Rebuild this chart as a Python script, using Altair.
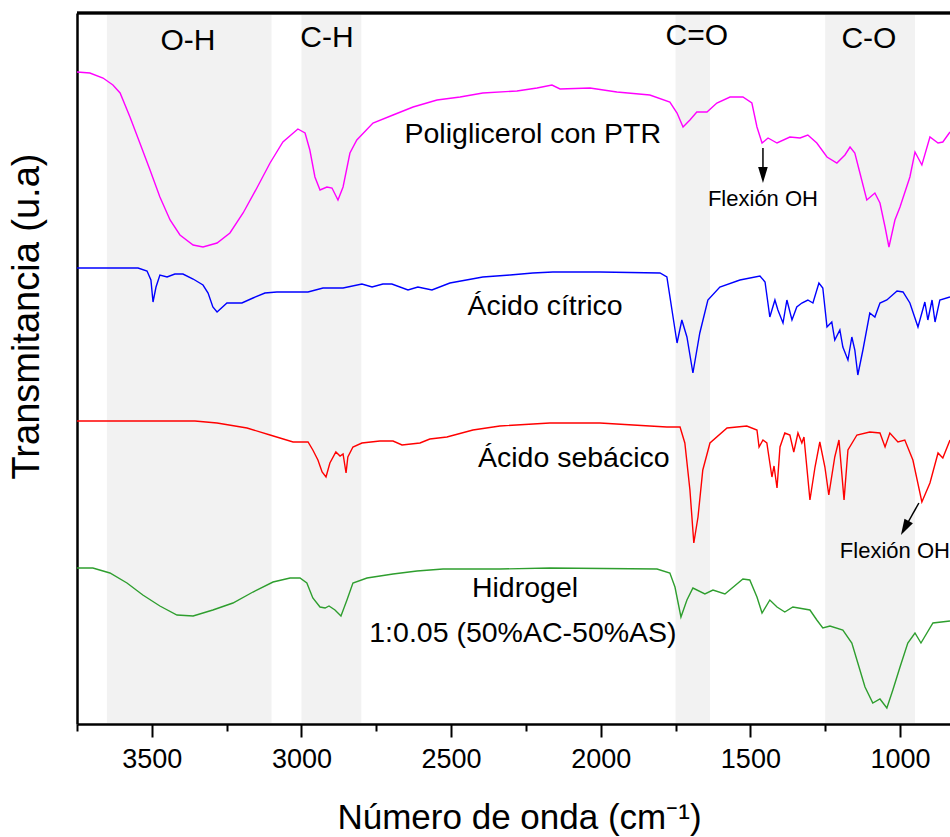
import altair as alt
import pandas as pd

# ---------------- data (wavenumber in cm-1, transmittance in arbitrary units) ----------------
pg_wn = [3750, 3707, 3663, 3630, 3606, 3573, 3540, 3506, 3473, 3439,
         3406, 3362, 3329, 3282, 3239, 3195, 3149, 3105, 3062, 3012,
         2988, 2972, 2955, 2938, 2915, 2898, 2878, 2861, 2838, 2815,
         2761, 2694, 2627, 2547, 2470, 2394, 2280, 2213, 2163, 2136,
         2036, 1946, 1836, 1769, 1745, 1725, 1702, 1679, 1645, 1612,
         1568, 1525, 1495, 1478, 1461, 1441, 1411, 1368, 1334, 1308,
         1278, 1244, 1211, 1184, 1167, 1151, 1134, 1111, 1084, 1067,
         1050, 1037, 1017, 1000, 967, 950, 927, 900, 873, 857, 833]
pg_t = [652, 651, 646, 639, 631, 607, 581, 554, 527, 504,
        489, 479, 477, 481, 491, 511, 536, 561, 582, 595,
        591, 574, 547, 534, 537, 536, 524, 537, 571, 584,
        601, 609, 617, 624, 627, 631, 633, 636, 639, 635,
        636, 632, 629, 622, 611, 597, 604, 612, 612, 621,
        627, 627, 621, 597, 581, 586, 581, 587, 586, 589,
        581, 567, 561, 569, 577, 571, 551, 524, 531, 521,
        497, 477, 504, 517, 547, 572, 559, 587, 581, 582, 592]

ac_wn = [3750, 3546, 3516, 3503, 3496, 3486, 3473, 3449, 3423, 3396,
         3362, 3329, 3312, 3296, 3282, 3249, 3199, 3162, 3122, 3082,
         2978, 2928, 2861, 2798, 2764, 2728, 2698, 2644, 2611, 2564,
         2504, 2394, 2303, 2227, 2160, 2003, 1802, 1779, 1762, 1745,
         1729, 1712, 1692, 1669, 1642, 1602, 1535, 1468, 1451, 1435,
         1418, 1408, 1391, 1378, 1361, 1345, 1328, 1308, 1291, 1271,
         1258, 1244, 1228, 1218, 1201, 1191, 1174, 1161, 1151, 1141,
         1124, 1101, 1084, 1067, 1044, 1010, 990, 967, 940, 917,
         907, 893, 883, 867, 833]
ac_t = [456, 456, 453, 444, 422, 437, 449, 447, 450, 450,
        445, 439, 431, 417, 412, 421, 421, 426, 431, 432,
        432, 436, 436, 440, 437, 440, 440, 434, 437, 434,
        441, 447, 449, 451, 452, 452, 451, 447, 414, 381,
        404, 387, 351, 391, 424, 437, 444, 448, 442, 407,
        424, 414, 401, 424, 404, 417, 421, 424, 421, 441,
        436, 397, 402, 384, 394, 377, 364, 387, 374, 349,
        374, 411, 407, 421, 424, 433, 432, 421, 397, 422,
        404, 424, 402, 424, 427]

as_wn = [3750, 3356, 3282, 3182, 3105, 3028, 2978, 2962, 2945, 2931,
         2918, 2905, 2885, 2871, 2861, 2851, 2845, 2828, 2798, 2738,
         2694, 2664, 2604, 2571, 2514, 2427, 2337, 2170, 2003, 1836,
         1779, 1735, 1719, 1702, 1689, 1675, 1659, 1635, 1578, 1512,
         1478, 1471, 1458, 1445, 1428, 1421, 1411, 1401, 1385, 1368,
         1355, 1341, 1328, 1321, 1301, 1284, 1268, 1251, 1238, 1218,
         1204, 1187, 1174, 1144, 1101, 1067, 1050, 1034, 1007, 984,
         957, 927, 900, 873, 857, 833]
as_t = [303, 303, 301, 296, 289, 282, 282, 274, 264, 252,
        247, 261, 272, 268, 270, 251, 267, 277, 281, 283,
        283, 279, 281, 285, 287, 294, 298, 301, 301, 298,
        297, 297, 281, 234, 181, 207, 254, 281, 296, 298,
        294, 277, 284, 281, 247, 258, 236, 277, 291, 289,
        272, 291, 281, 287, 224, 257, 282, 257, 229, 267,
        284, 224, 274, 289, 292, 291, 277, 291, 282, 284,
        264, 222, 241, 271, 266, 284]

hg_wn = [3750, 3697, 3640, 3583, 3530, 3473, 3416, 3362, 3296, 3229,
         3162, 3095, 3038, 3005, 2982, 2962, 2938, 2921, 2908, 2888,
         2868, 2848, 2828, 2781, 2694, 2614, 2527, 2337, 2170, 1812,
         1769, 1752, 1732, 1712, 1692, 1652, 1625, 1585, 1525, 1502,
         1478, 1461, 1435, 1411, 1385, 1358, 1301, 1278, 1258, 1234,
         1191, 1161, 1141, 1117, 1091, 1067, 1044, 1024, 1000, 974,
         950, 930, 890, 833]
hg_t = [156, 156, 151, 141, 129, 118, 109, 108, 114, 121,
        132, 142, 146, 146, 141, 126, 117, 116, 118, 114,
        108, 124, 141, 146, 150, 153, 155, 155, 156, 155,
        151, 137, 107, 124, 136, 130, 134, 130, 145, 144,
        127, 111, 124, 117, 112, 117, 114, 104, 96, 98,
        94, 81, 61, 37, 21, 25, 16, 34, 57, 81,
        91, 81, 101, 103]

series_names = ["Poliglicerol con PTR", "Ácido cítrico", "Ácido sebácico", "Hidrogel"]
series_colors = ["#ff00ff", "#0000ff", "#ff0000", "#2e9e2e"]

# shaded functional-group bands
band_lo = [3650, 3000, 1750, 1250]
band_hi = [3100, 2800, 1635, 950]
band_lbl = ["O-H", "C-H", "C=O", "C-O"]
band_lbl_wn = [3379, 2915, 1679, 1104]
band_lbl_t = [674, 677, 679, 676]

# series labels
lbl_text = ["Poliglicerol con PTR", "Ácido cítrico", "Ácido sebácico", "Hidrogel", "1:0.05 (50%AC-50%AS)"]
lbl_wn = [2227, 2186, 2090, 2253, 2260]
lbl_t = [581, 409, 257, 127, 82]

# "Flexión OH" annotations with arrows
arrow_wn1 = [1458, 937]
arrow_t1 = [576, 221]
arrow_wn2 = [1458, 984]
arrow_t2 = [549, 196]
arrow_angle = [0, 29]
flex_center_wn = [1458]
flex_center_t = [518]
flex_left_wn = [1201]
flex_left_t = [166]

tick_vals = [3750, 3500, 3250, 3000, 2750, 2500, 2250, 2000, 1750, 1500, 1250, 1000]

# ---------------- tables ----------------
rows = []
for name, wns, vals in zip(series_names, [pg_wn, ac_wn, as_wn, hg_wn], [pg_t, ac_t, as_t, hg_t]):
    for w, v in zip(wns, vals):
        rows.append({"serie": name, "wn": w, "t": v})
df = pd.DataFrame(rows)
bands = pd.DataFrame({"lo": band_lo, "hi": band_hi})
band_labels = pd.DataFrame({"lbl": band_lbl, "wn": band_lbl_wn, "t": band_lbl_t})
labels = pd.DataFrame({"lbl": lbl_text, "wn": lbl_wn, "t": lbl_t})
arrows = pd.DataFrame({"wn": arrow_wn1, "t": arrow_t1, "wn2": arrow_wn2, "t2": arrow_t2, "ang": arrow_angle})
flex_c = pd.DataFrame({"lbl": ["Flexión OH"], "wn": flex_center_wn, "t": flex_center_t})
flex_l = pd.DataFrame({"lbl": ["Flexión OH"], "wn": flex_left_wn, "t": flex_left_t})

W, H = 873, 711
FONT = "Liberation Sans"

xscale = alt.Scale(domain=[833, 3750], reverse=True, nice=False, zero=False)
yscale = alt.Scale(domain=[0, 711], nice=False, zero=False)

xaxis = alt.Axis(
    title="Número de onda (cm⁻¹)",
    values=tick_vals,
    labelExpr="datum.value % 500 === 0 ? format(datum.value, 'd') : ''",
    tickSize={"condition": {"test": "datum.value % 500 === 0", "value": 13}, "value": 7},
    tickWidth=2, tickColor="black",
    domainColor="black", domainWidth=2.5,
    labelFont=FONT, labelFontSize=27, labelColor="black", labelPadding=9,
    labelFlush=False, labelOverlap=False, grid=False,
    titleFont=FONT, titleFontSize=35, titleFontWeight="normal", titleColor="black",
    titleX=442, titleY=104, titleAlign="center", titleBaseline="alphabetic",
)
yaxis = alt.Axis(
    title="Transmitancia (u.a)",
    labels=False, ticks=False, grid=False,
    domainColor="black", domainWidth=2.5,
    titleFont=FONT, titleFontSize=38, titleFontWeight="normal", titleColor="black",
    titleX=-50, titleY=303, titleAngle=270, titleAlign="center", titleBaseline="middle",
)

band_layer = alt.Chart(bands).mark_rect(color="#f2f2f2").encode(
    x=alt.X("lo:Q", scale=xscale, axis=xaxis),
    x2="hi:Q",
    y=alt.value(2),
    y2=alt.value(H - 1),
)

line_layer = alt.Chart(df).mark_line(strokeWidth=1.4, clip=True).encode(
    x=alt.X("wn:Q", scale=xscale, axis=xaxis),
    y=alt.Y("t:Q", scale=yscale, axis=yaxis),
    color=alt.Color("serie:N", scale=alt.Scale(domain=series_names, range=series_colors), legend=None),
)

band_text = alt.Chart(band_labels).mark_text(
    font=FONT, fontSize=30, color="black", align="center", baseline="alphabetic"
).encode(
    x=alt.X("wn:Q", scale=xscale, axis=xaxis),
    y=alt.Y("t:Q", scale=yscale, axis=yaxis),
    text="lbl:N",
)

series_text = alt.Chart(labels).mark_text(
    font=FONT, fontSize=28.5, color="black", align="center", baseline="alphabetic"
).encode(
    x=alt.X("wn:Q", scale=xscale, axis=xaxis),
    y=alt.Y("t:Q", scale=yscale, axis=yaxis),
    text="lbl:N",
)

arrow_lines = alt.Chart(arrows).mark_rule(color="black", strokeWidth=1.5).encode(
    x=alt.X("wn:Q", scale=xscale, axis=xaxis),
    y=alt.Y("t:Q", scale=yscale, axis=yaxis),
    x2="wn2:Q",
    y2="t2:Q",
)

arrow_heads = alt.Chart(arrows).mark_point(
    shape="M-0.6,-1L0.6,-1L0,1Z", filled=True, size=256, color="black", opacity=1
).encode(
    x=alt.X("wn2:Q", scale=xscale, axis=xaxis),
    y=alt.Y("t2:Q", scale=yscale, axis=yaxis),
    angle=alt.Angle("ang:Q", scale=None),
)

flex_c_text = alt.Chart(flex_c).mark_text(
    font=FONT, fontSize=22, color="black", align="center", baseline="alphabetic"
).encode(
    x=alt.X("wn:Q", scale=xscale, axis=xaxis),
    y=alt.Y("t:Q", scale=yscale, axis=yaxis),
    text="lbl:N",
)

flex_l_text = alt.Chart(flex_l).mark_text(
    font=FONT, fontSize=22, color="black", align="left", baseline="alphabetic"
).encode(
    x=alt.X("wn:Q", scale=xscale, axis=xaxis),
    y=alt.Y("t:Q", scale=yscale, axis=yaxis),
    text="lbl:N",
)

top_frame = alt.Chart(bands).mark_rule(color="black", strokeWidth=2.5).encode(
    x=alt.value(0), x2=alt.value(W), y=alt.value(0)
)

chart = alt.layer(
    band_layer, line_layer, band_text, series_text,
    arrow_lines, arrow_heads, flex_c_text, flex_l_text, top_frame
).properties(
    width=W, height=H,
    autosize=alt.AutoSizeParams(type="none"),
    padding={"left": 77, "top": 13, "right": 0, "bottom": 113},
).configure_view(stroke=None)

chart.save("out.html", embed_options={"renderer": "svg", "actions": False})
